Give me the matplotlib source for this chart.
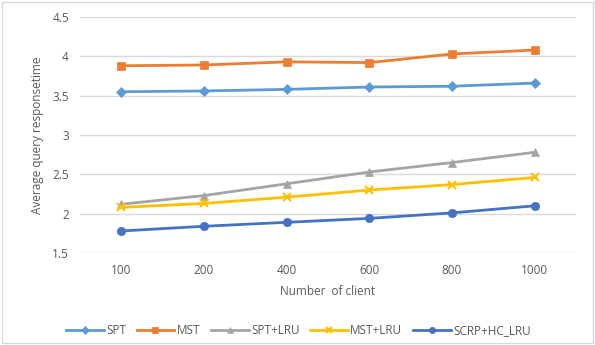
import numpy as np
import matplotlib.pyplot as plt

# data
clients = ["100", "200", "400", "600", "800", "1000"]
spt = [3.55, 3.56, 3.58, 3.61, 3.62, 3.66]
mst = [3.88, 3.89, 3.93, 3.92, 4.03, 4.08]
spt_lru = [2.12, 2.23, 2.38, 2.53, 2.65, 2.78]
mst_lru = [2.08, 2.13, 2.21, 2.30, 2.37, 2.46]
scrp = [1.78, 1.84, 1.89, 1.94, 2.01, 2.10]

series = [
    ("SPT", spt, "#5B9BD5", "D", 5),
    ("MST", mst, "#ED7D31", "s", 6),
    ("SPT+LRU", spt_lru, "#A5A5A5", "^", 6),
    ("MST+LRU", mst_lru, "#FFC000", "x", 6),
    ("SCRP+HC_LRU", scrp, "#4472C4", "o", 6),
]

text_col = "#595959"
plt.rcParams["font.family"] = ["Open Sans", "DejaVu Sans"]

fig = plt.figure(figsize=(5.95, 3.45), dpi=100)
ax = fig.add_axes([80 / 595, 1 - 253 / 345, 496 / 595, 236 / 345])

x = np.arange(len(clients))
for name, vals, col, mk, ms in series:
    ax.plot(x, vals, color=col, marker=mk, markersize=ms, linewidth=2,
            markeredgewidth=1.5 if mk == "x" else 0.5, label=name)

ax.set_xlim(-0.5, len(clients) - 0.5)
ax.set_ylim(1.5, 4.5)
ax.set_yticks([1.5, 2, 2.5, 3, 3.5, 4, 4.5])
ax.set_yticklabels(["1.5", "2", "2.5", "3", "3.5", "4", "4.5"])
ax.set_xticks(x)
ax.set_xticklabels(clients)
ax.grid(axis="y", color="#D9D9D9", linewidth=1)
ax.set_axisbelow(True)
for s in ax.spines.values():
    s.set_visible(False)
ax.tick_params(length=0, colors=text_col, labelsize=8.5, pad=8)

ax.set_xlabel("Number  of client", color=text_col, fontsize=8.5, labelpad=6)
ax.set_ylabel("Average query responsetime", color=text_col, fontsize=8.5, labelpad=6)

ax.legend(loc="upper center", bbox_to_anchor=(0.44, -0.255), ncol=5, frameon=False,
          fontsize=8.5, labelcolor=text_col, handlelength=3.2, columnspacing=0.9,
          handletextpad=0.2, markerscale=0.75)

# light border around the chart
fig.patches.append(plt.Rectangle((0.003, 0.005), 0.994, 0.99, transform=fig.transFigure,
                                 fill=False, edgecolor="#D9D9D9", linewidth=1))

fig.savefig("out.png", dpi=100)
